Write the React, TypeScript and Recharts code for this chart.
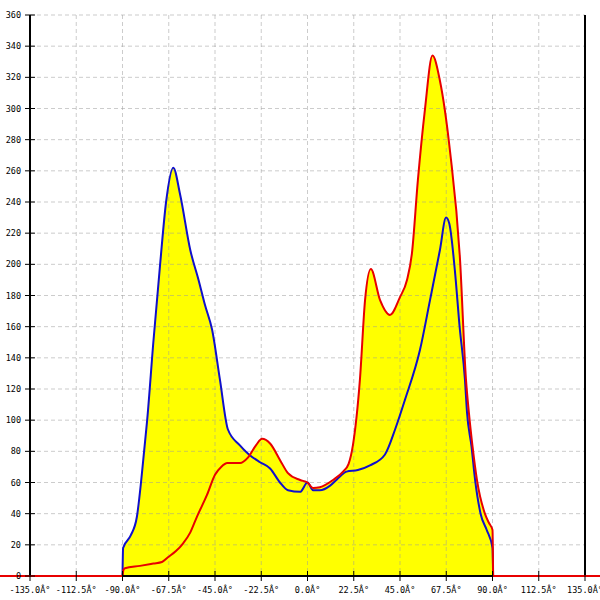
// Angular distribution plot: two curves over a yellow filled envelope.
import {
  ComposedChart, Area, Line, XAxis, YAxis, CartesianGrid, ReferenceLine,
} from "recharts";

const xTicks = [-135, -112.5, -90, -67.5, -45, -22.5, 0, 22.5, 45, 67.5, 90, 112.5, 135];
const xTickLabels = [
  "-135.0Â°", "-112.5Â°", "-90.0Â°", "-67.5Â°", "-45.0Â°", "-22.5Â°", "0.0Â°",
  "22.5Â°", "45.0Â°", "67.5Â°", "90.0Â°", "112.5Â°", "135.0Â°",
];
const yTicks = [0, 20, 40, 60, 80, 100, 120, 140, 160, 180, 200, 220, 240, 260, 280, 300, 320, 340, 360];

const blueAngles = [
  -90, -89.7, -86, -83, -81, -79.5, -78, -75, -71.7, -68.8, -65.3, -62, -57, -53, -49.9, -46.4,
  -42.6, -38.7, -33, -28.5, -23.1, -18.2, -13.4, -9.5, -3.6, 0, 2.7, 6, 11, 14.3, 19, 24.5,
  30.4, 37.7, 42.6, 47.4, 54.7, 59.6, 64.4, 67.4, 69, 71.7, 74, 76.6, 77.6, 79.8, 81.5, 84.2,
  87.2, 90, 90.3,
];
const blueValues = [
  0, 18, 26, 38, 60, 80, 100, 150, 200, 240, 262, 245, 209, 190, 174, 158,
  126, 94, 84, 78, 73, 69, 60, 55, 54, 60, 55, 55, 58, 62, 67, 68,
  71, 78, 94, 113, 145, 177, 209, 230, 226, 196, 160, 126, 105, 83, 62, 40,
  29.5, 18, 0,
];

const redAngles = [
  -90, -89.5, -88.8, -81.5, -75, -70.8, -67.9, -64, -60.5, -57, -53.8, -48.9, -45, -42, -39,
  -32.8, -29, -25, -22.1, -18.2, -13.4, -9.5, -3.6, 0, 2.7, 6, 12.4, 17.3, 20, 22.1, 25.5, 28,
  30.8, 35.3, 40.1, 45, 48.4, 50.8, 53.7, 57.1, 60.8, 64.4, 69.3, 74.2, 77.1, 78.5, 80.3, 82.4,
  86.3, 88.3, 90, 90.3,
];
const redValues = [
  0, 4, 5, 6.5, 8, 9, 12, 16, 21, 28, 38, 52, 65, 70, 72.5,
  72.5, 76, 84, 88, 85, 74.5, 66, 61.6, 60, 56.5, 57, 61.6, 67, 72, 84, 126, 177,
  197, 177, 167.5, 179, 190, 207, 254, 299, 334, 318, 273, 203, 126, 105, 83, 62,
  40, 34, 29.5, 0,
];

const blueData = blueAngles.map((a, i) => ({ angle: a, value: blueValues[i] }));
const redData = redAngles.map((a, i) => ({ angle: a, value: redValues[i] }));

const FONT = "'DejaVu Sans Mono', monospace";
const RED = "#e80000";

function YTick(props: any) {
  const { x, y, payload } = props;
  return (
    <g>
      <line x1={x + 3} x2={x + 13} y1={y} y2={y} stroke="#000" />
      <text x={x - 1} y={y} dy={3} textAnchor="end" fontSize={8.5} fontFamily={FONT} fill="#000">
        {payload.value}
      </text>
    </g>
  );
}

function XTick(props: any) {
  const { x, y, payload } = props;
  const i = xTicks.indexOf(payload.value);
  return (
    <g>
      <line x1={x} x2={x} y1={y - 13} y2={y - 3} stroke="#000" />
      <text x={x} y={y + 9} textAnchor="middle" fontSize={8.5} fontFamily={FONT} fill="#000">
        {xTickLabels[i] ?? payload.value}
      </text>
    </g>
  );
}

export default function App() {
  return (
    <div style={{ position: "absolute", left: 0, top: 0, width: 600, height: 600, background: "#fff" }}>
      <ComposedChart width={600} height={600} margin={{ top: 15, right: 15, left: 0, bottom: 0 }}>
        <XAxis
          type="number"
          dataKey="angle"
          domain={[-135, 135]}
          ticks={xTicks}
          interval={0}
          height={24}
          tickSize={5}
          tickMargin={3}
          tickLine={false}
          tick={<XTick />}
          axisLine={false}
        />
        <YAxis
          type="number"
          domain={[0, 360]}
          ticks={yTicks}
          interval={0}
          width={30}
          tickSize={5}
          tickMargin={3}
          tickLine={false}
          tick={<YTick />}
          axisLine={{ stroke: "#000", strokeWidth: 2 }}
        />
        <Area data={blueData} dataKey="value" type="monotone" fill="#ffff00" fillOpacity={1} stroke="none" isAnimationActive={false} />
        <Area data={redData} dataKey="value" type="monotone" fill="#ffff00" fillOpacity={1} stroke="none" isAnimationActive={false} />
        <CartesianGrid strokeDasharray="4 3" stroke="#999" strokeOpacity={0.5} {...({ zIndex: 150 } as any)} />
        <ReferenceLine segment={[{ x: 135, y: 0 }, { x: 135, y: 360 }]} stroke="#000" strokeWidth={2} {...({ zIndex: 1500 } as any)} />
        <ReferenceLine segment={[{ x: -135, y: 0 }, { x: 135, y: 0 }]} stroke="#000" strokeWidth={2} {...({ zIndex: 1500 } as any)} />
        <Line data={blueData} dataKey="value" type="monotone" stroke="#1010cc" strokeWidth={2} dot={false} isAnimationActive={false} />
        <Line data={redData} dataKey="value" type="monotone" stroke={RED} strokeWidth={2} dot={false} isAnimationActive={false} />
        <ReferenceLine segment={[{ x: -150, y: 0 }, { x: -90, y: 0 }]} stroke={RED} strokeWidth={2} ifOverflow="visible" {...({ zIndex: 1600 } as any)} />
        <ReferenceLine segment={[{ x: 90.3, y: 0 }, { x: 150, y: 0 }]} stroke={RED} strokeWidth={2} ifOverflow="visible" {...({ zIndex: 1600 } as any)} />
      </ComposedChart>
    </div>
  );
}
